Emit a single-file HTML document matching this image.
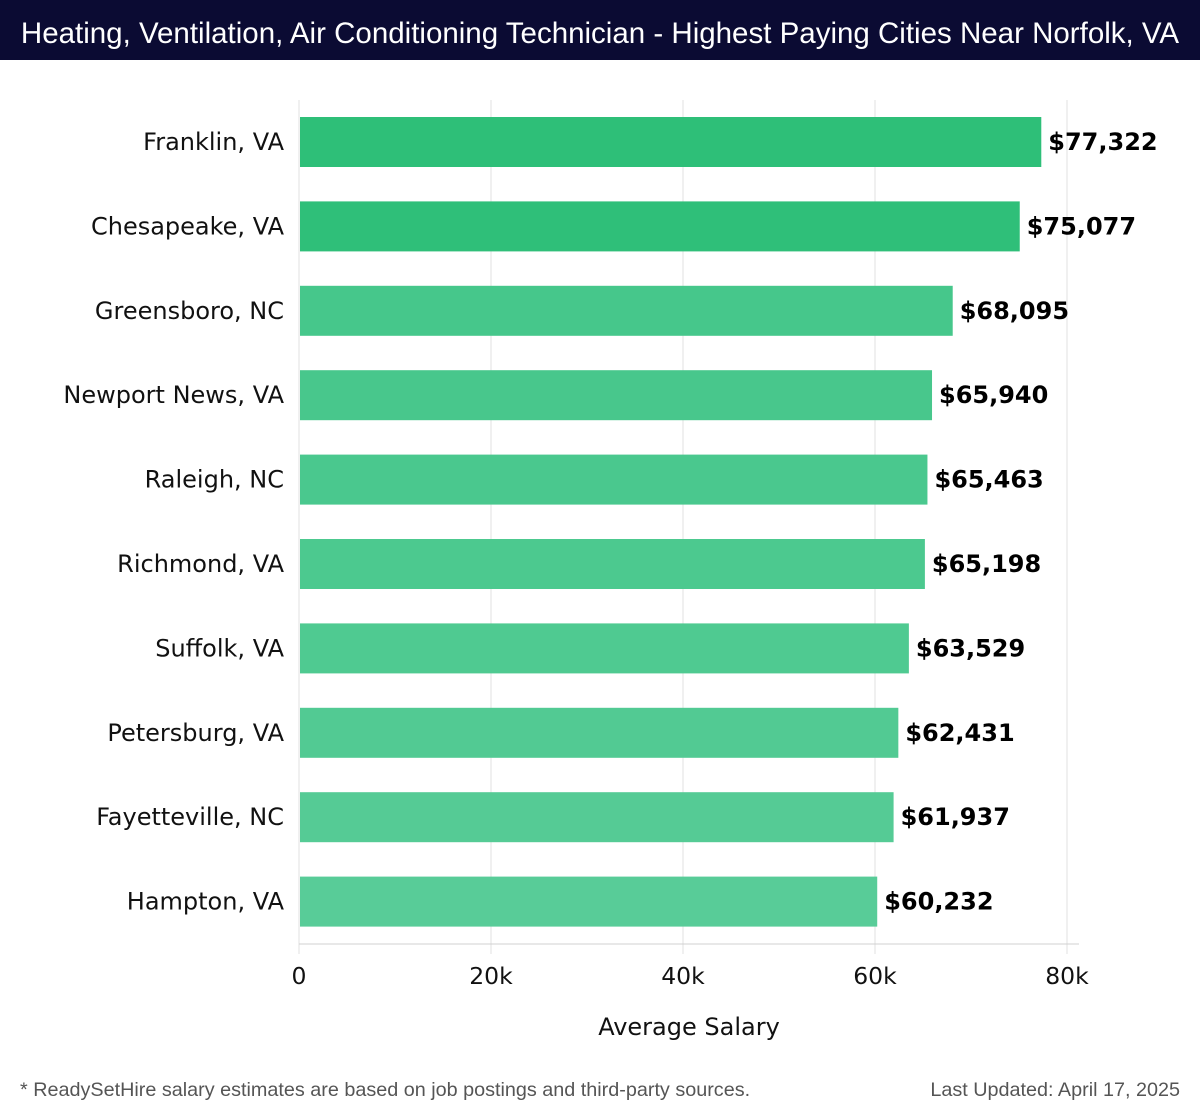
<!DOCTYPE html>
<html><head><meta charset="utf-8"><style>
body{margin:0;width:1200px;height:1120px;background:#fff;font-family:"DejaVu Sans","Liberation Sans",sans-serif;overflow:hidden}
#title{position:absolute;left:0;top:0;width:1200px;height:60px;background:#0b0b33;color:#fff;font-size:29.5px;line-height:68px;text-align:center;font-family:"Liberation Sans","DejaVu Sans",sans-serif;white-space:nowrap}
#foot-l{position:absolute;left:20px;top:1079px;font-size:19.8px;color:#555;font-family:"Liberation Sans",sans-serif}
#foot-r{position:absolute;right:20px;top:1079px;font-size:19.8px;color:#555;font-family:"Liberation Sans",sans-serif}
</style></head><body>
<div id="title">Heating, Ventilation, Air Conditioning Technician - Highest Paying Cities Near Norfolk, VA</div>
<svg id="chart" width="1200" height="1120" style="position:absolute;left:0;top:0"></svg>
<div id="foot-l">* ReadySetHire salary estimates are based on job postings and third-party sources.</div>
<div id="foot-r">Last Updated: April 17, 2025</div>
<script>
const cities=["Franklin, VA","Chesapeake, VA","Greensboro, NC","Newport News, VA","Raleigh, NC","Richmond, VA","Suffolk, VA","Petersburg, VA","Fayetteville, NC","Hampton, VA"];
const salaries=[77322,75077,68095,65940,65463,65198,63529,62431,61937,60232];
const tickValues=[0,20000,40000,60000,80000];
const tickLabels=["0","20k","40k","60k","80k"];
const colors=["#2ebf78","#2fbf79","#46c78b","#48c78c","#4ac88e","#4cc98f","#4fca91","#52ca93","#55cb95","#58cc98"];
const NS="http://www.w3.org/2000/svg";
const svg=document.getElementById("chart");
const x0=299,pxPer=768/80000,top0=100,band=84.4;
const xs=v=>x0+v*pxPer;
function mk(t,a){const e=document.createElementNS(NS,t);for(const k in a)e.setAttribute(k,a[k]);svg.appendChild(e);return e;}
tickValues.forEach((v,i)=>{
  const g=mk("line",{x1:xs(v),x2:xs(v),y1:100,y2:954,stroke:"#e0e0e0","stroke-width":1});
  
  
  const t=mk("text",{x:xs(v),y:984,"text-anchor":"middle","font-size":23.5,fill:"#111"});
  t.textContent=tickLabels[i];
  
  
});
const ax=mk("line",{x1:299,x2:1079,y1:944,y2:944,stroke:"#d0d0d0","stroke-width":1});


cities.forEach((c,i)=>{
  const y=top0+band*i+17;
  const r=mk("rect",{x:x0+1,y:y,width:xs(salaries[i])-x0-1,height:50,fill:colors[i]});
  
  
  const l=mk("text",{x:284,y:y+33,"text-anchor":"end","font-size":24,fill:"#111"});
  l.textContent=c;
  
  
  const v=mk("text",{x:xs(salaries[i])+7,y:y+33,"font-size":24,"font-weight":"bold",fill:"#000"});
  v.textContent="$"+salaries[i].toLocaleString("en-US");
  
  
});
const at=mk("text",{x:689,y:1035,"text-anchor":"middle","font-size":24,fill:"#111"});
at.textContent="Average Salary";


</script>
</body></html>
